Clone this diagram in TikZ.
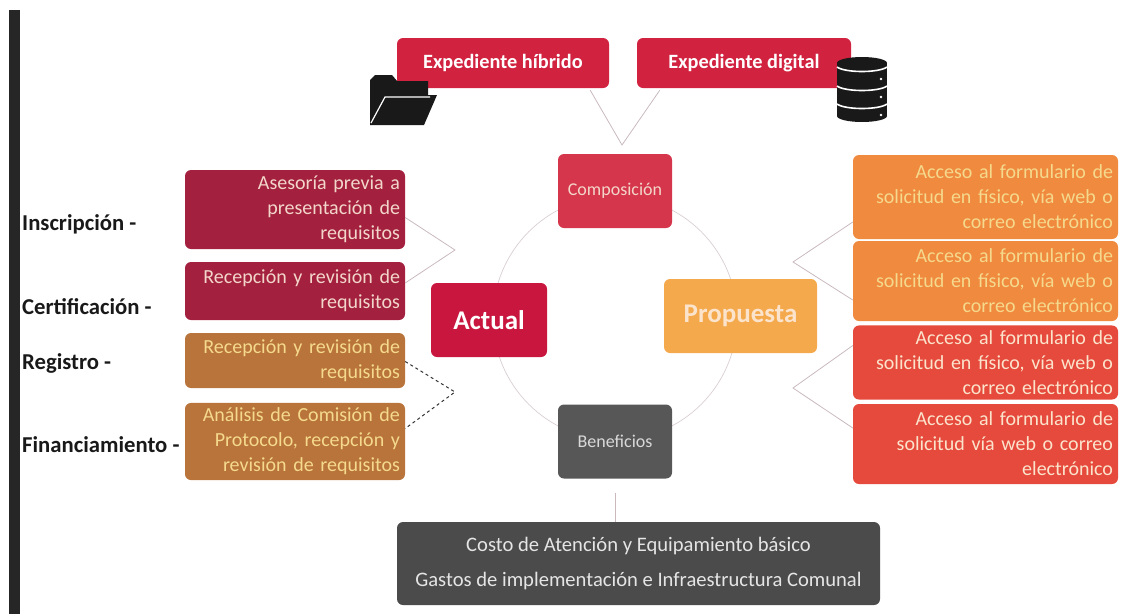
\documentclass[tikz,border=0pt]{standalone}
\usepackage{fontspec}
\setmainfont{Carlito}
\definecolor{exred}{HTML}{D1223F}
\definecolor{compred}{HTML}{D6364C}
\definecolor{actred}{HTML}{C8163E}
\definecolor{wine}{HTML}{A3213F}
\definecolor{ochre}{HTML}{B8743A}
\definecolor{propor}{HTML}{F4A94C}
\definecolor{benegray}{HTML}{575757}
\definecolor{basegray}{HTML}{4B4B4B}
\definecolor{accor}{HTML}{F08A3F}
\definecolor{accred}{HTML}{E64A3C}
\definecolor{linkcol}{HTML}{C9B9BD}
\definecolor{paleyel}{HTML}{F5D98C}
\definecolor{palepink}{HTML}{F3D6CA}
\definecolor{palepeach}{HTML}{FBE3CC}
\begin{document}
\begin{tikzpicture}[x=1pt,y=-1pt,
    box/.style={rounded corners=6pt,inner sep=5pt},
    leftbox/.style={box,text width=210pt,minimum width=220pt,align=right,
      font=\fontsize{20}{25}\selectfont},
    rightbox/.style={box,text width=255pt,minimum width=265pt,align=right,
      font=\fontsize{20}{25}\selectfont},
    hub/.style={box,minimum height=74pt,align=center},
    tag/.style={anchor=west,inner sep=0pt,text=black!90,
      font=\bfseries\fontsize{22.7}{25}\selectfont},
    link/.style={linkcol,line width=0.8pt}]
  \useasboundingbox (0,0) rectangle (1122,614);
  \fill[black!85] (9,10) rectangle (20,614);
  % ring
  \draw[linkcol!70,line width=0.7pt] (615,318) circle (122);
  % top
  \node[box,fill=exred,text=white,minimum width=212pt,minimum height=50pt,
    font=\bfseries\fontsize{20.3}{22}\selectfont] (hibrido) at (503,63) {Expediente híbrido};
  \node[box,fill=exred,text=white,minimum width=214pt,minimum height=50pt,
    font=\bfseries\fontsize{20.3}{22}\selectfont] (digital) at (744,63) {Expediente digital};
  % hubs
  \node[hub,fill=compred,text=palepink,minimum width=114pt,
    font=\fontsize{18}{20}\selectfont] (comp) at (615,191) {Composición};
  \node[hub,fill=actred,text=white,minimum width=116pt,
    font=\bfseries\fontsize{27}{30}\selectfont] (actual) at (489,320) {Actual};
  \node[hub,fill=propor,text=palepeach,minimum width=153pt,
    font=\bfseries\fontsize{27}{30}\selectfont] (prop) at (740.5,316) {Propuesta};
  \node[hub,fill=benegray,text=black!15,minimum width=114pt,
    font=\fontsize{18}{20}\selectfont] (benef) at (615,441.5) {Beneficios};
  \node[box,fill=basegray,text=black!10,minimum width=483pt,minimum height=83pt,
    align=center,font=\fontsize{20.6}{35}\selectfont] (base) at (638.5,563.5)
    {Costo de Atención y Equipamiento básico\\Gastos de implementación e Infraestructura Comunal};
  % left
  \node[leftbox,fill=wine,text=palepink,minimum height=79pt] (l1) at (295,209.5)
    {Asesoría previa a\\presentación de\\requisitos};
  \node[leftbox,fill=wine,text=palepink,minimum height=58pt] (l2) at (295,291)
    {Recepción y revisión de\\requisitos};
  \node[leftbox,fill=ochre,text=paleyel,minimum height=55pt] (l3) at (295,360.5)
    {Recepción y revisión de\\requisitos};
  \node[leftbox,fill=ochre,text=paleyel,minimum height=73pt] (l4) at (295,441.5)
    {Análisis de Comisión de\\Protocolo, recepción y\\revisión de requisitos};
  \node[tag] (insc) at (22,224) {Inscripción -};
  \node[tag] (cert) at (22,307) {Certificación -};
  \node[tag] (reg) at (22,363) {Registro -};
  \node[tag] (fin) at (22,445) {Financiamiento -};
  % right
  \node[rightbox,fill=accor,text=paleyel,minimum height=84pt] (r1) at (985.5,197)
    {Acceso al formulario de\\solicitud en físico, vía web o\\correo electrónico};
  \node[rightbox,fill=accor,text=paleyel,minimum height=80pt] (r2) at (985.5,281)
    {Acceso al formulario de\\solicitud en físico, vía web o\\correo electrónico};
  \node[rightbox,fill=accred,text=palepeach,minimum height=73pt] (r3) at (985.5,362.5)
    {Acceso al formulario de\\solicitud en físico, vía web o\\correo electrónico};
  \node[rightbox,fill=accred,text=palepeach,minimum height=80pt] (r4) at (985.5,444)
    {Acceso al formulario de\\solicitud vía web o correo\\electrónico};
  % connectors
  \coordinate (topv) at (622,145);
  \coordinate (lv1) at (455,250);
  \coordinate (lv2) at (455,392);
  \coordinate (rv1) at (793,262);
  \coordinate (rv2) at (793,388);
  \begin{scope}[link]
    \draw ([xshift=-19pt,yshift=-2pt]hibrido.south east) -- (topv)
      -- ([xshift=23pt,yshift=-2pt]digital.south west);
    \draw ([yshift=-8pt]l1.east) -- (lv1) -- ([yshift=8pt]l2.east);
    \draw ([yshift=-25pt]r1.west) -- (rv1) -- ([yshift=-19pt]r2.west);
    \draw ([yshift=17pt]r3.west) -- (rv2) -- ([yshift=16pt]r4.west);
    \draw (benef.south) ++(0,14) -- (benef.south |- base.north);
  \end{scope}
  \draw[black!80,dashed,line width=1pt] ([yshift=-1pt]l3.east) -- (lv2)
    -- ([yshift=13pt]l4.east);
  % folder icon
  \fill[black!90] (370,125) -- (370,80) -- (375,75) -- (392,75) -- (397,81)
    -- (428,81) -- (428,96) -- cycle;
  \fill[black!90] (370,125) -- (384,95) -- (437,95) -- (424,125) -- cycle;
  \draw[white,line width=1.2pt] (371,123) -- (385,97) -- (430,97);
  % database icon
  \fill[black!90] (837,63) rectangle (887,116);
  \fill[black!90] (862,63) ellipse [x radius=25,y radius=6];
  \fill[black!90] (862,116) ellipse [x radius=25,y radius=6];
  \foreach \yy in {67,86,104}
    \draw[white,line width=1.6pt] (837,\yy) .. controls (845,\yy+6) and (879,\yy+6) .. (887,\yy);
  \foreach \yy in {79,97,115}
    \fill[white] (881,\yy) circle (1.4);
\end{tikzpicture}
\end{document}
